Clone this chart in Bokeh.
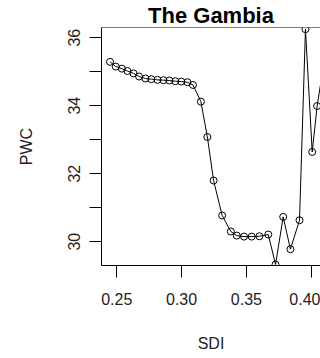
from bokeh.plotting import figure
from bokeh.models import Range1d, Span, PrintfTickFormatter
from bokeh.embed import file_html
from bokeh.resources import INLINE

# PWC against SDI for The Gambia
sdi = [0.2448, 0.2492, 0.2539, 0.2582, 0.2629, 0.2672, 0.2721, 0.2767,
       0.2814, 0.2860, 0.2906, 0.2952, 0.2998, 0.3045, 0.3088,
       0.3149, 0.3199, 0.3247, 0.3313, 0.3380,
       0.3426, 0.3482, 0.3541, 0.3600, 0.3669,
       0.3725, 0.3784, 0.3840, 0.3910, 0.3956, 0.4008, 0.4046, 0.4100]
pwc = [35.29, 35.15, 35.09, 35.02, 34.95, 34.86, 34.80, 34.78,
       34.76, 34.75, 34.74, 34.72, 34.71, 34.69, 34.61,
       34.12, 33.08, 31.80, 30.77, 30.30,
       30.18, 30.15, 30.15, 30.16, 30.21,
       29.33, 30.73, 29.78, 30.63, 36.25, 32.64, 33.99, 35.30]

x_ticks = [0.25, 0.30, 0.35, 0.40]
y_ticks = [30, 31, 32, 33, 34, 35, 36]
y_tick_labels = ["30", "", "32", "", "34", "", "36"]

FONT = "Liberation Sans"
x_lo, x_hi = 0.2382, 0.4072
y_lo, y_hi = 29.30, 36.30

p = figure(width=320, height=358, output_backend="svg", toolbar_location=None,
           x_range=Range1d(x_lo, x_hi), y_range=Range1d(y_lo, y_hi),
           min_border_left=101, min_border_right=0, min_border_top=0,
           min_border_bottom=93)

p.title.text = "The Gambia"
p.title.align = "center"
p.title.text_font = FONT
p.title.text_font_size = "22px"
p.title.text_font_style = "bold"
p.title.text_color = "black"
p.title.standoff = 0

p.grid.visible = False
p.outline_line_color = None
p.background_fill_color = "white"
p.border_fill_color = "white"

# box top edge (right edge falls outside the page)
p.add_layout(Span(location=y_hi, dimension="width", line_color="black", line_width=1))

for ax in (p.xaxis[0], p.yaxis[0]):
    ax.axis_line_color = "black"
    ax.axis_line_width = 1
    ax.major_tick_line_color = "black"
    ax.major_tick_out = 12
    ax.major_tick_in = 0
    ax.minor_tick_line_color = None
    ax.major_label_text_font = FONT
    ax.major_label_text_font_size = "16px"
    ax.major_label_text_color = "#222222"
    ax.axis_label_text_font = FONT
    ax.axis_label_text_font_size = "16px"
    ax.axis_label_text_font_style = "normal"
    ax.axis_label_text_color = "#222222"

p.xaxis.ticker = x_ticks
p.xaxis.formatter = PrintfTickFormatter(format="%.2f")
p.xaxis.axis_label = "SDI"
p.xaxis.major_label_standoff = 15
p.xaxis.axis_label_standoff = 27

p.yaxis.ticker = y_ticks
p.yaxis.major_label_overrides = dict(zip(y_ticks, y_tick_labels))
p.yaxis.major_label_orientation = "vertical"
p.yaxis.axis_label = "PWC"
p.yaxis.major_label_standoff = 9
p.yaxis.axis_label_standoff = 31

p.line(sdi, pwc, line_color="black", line_width=1)
p.scatter(sdi, pwc, marker="circle", size=7, fill_color=None,
          line_color="black", line_width=1)

open("out.html", "w").write(file_html(p, INLINE))
